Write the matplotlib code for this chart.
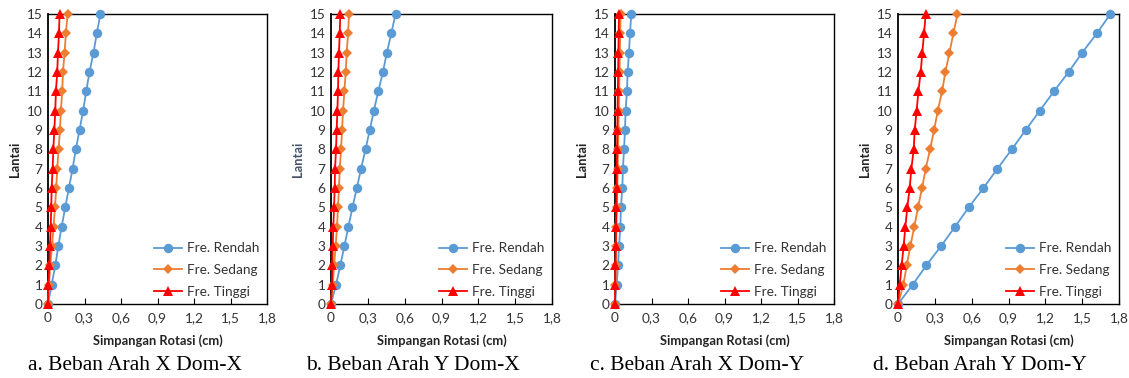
import matplotlib
matplotlib.use("Agg")
import matplotlib.pyplot as plt

lantai = list(range(16))

# Panel a: Beban Arah X Dom-X
a_rendah = [0, 0.030, 0.060, 0.085, 0.112, 0.142, 0.172, 0.202, 0.229, 0.259, 0.289, 0.314, 0.341, 0.374, 0.401, 0.431]
a_sedang = [0, 0.008, 0.019, 0.033, 0.046, 0.057, 0.068, 0.076, 0.087, 0.098, 0.106, 0.117, 0.123, 0.136, 0.147, 0.161]
a_tinggi = [0, 0.003, 0.011, 0.016, 0.022, 0.027, 0.030, 0.038, 0.044, 0.052, 0.060, 0.065, 0.076, 0.082, 0.090, 0.095]

# Panel b: Beban Arah Y Dom-X
b_rendah = [0, 0.041, 0.076, 0.109, 0.142, 0.175, 0.210, 0.245, 0.281, 0.316, 0.349, 0.385, 0.423, 0.455, 0.491, 0.526]
b_sedang = [0, 0.014, 0.025, 0.038, 0.049, 0.057, 0.065, 0.071, 0.082, 0.090, 0.098, 0.109, 0.120, 0.128, 0.139, 0.147]
b_tinggi = [0, 0.008, 0.011, 0.014, 0.019, 0.025, 0.030, 0.033, 0.041, 0.046, 0.052, 0.057, 0.060, 0.065, 0.071, 0.076]

# Panel c: Beban Arah X Dom-Y
c_rendah = [0, 0.014, 0.025, 0.033, 0.044, 0.049, 0.060, 0.065, 0.074, 0.082, 0.087, 0.098, 0.104, 0.115, 0.123, 0.134]
c_sedang = [0, 0.003, 0.006, 0.009, 0.012, 0.016, 0.019, 0.022, 0.025, 0.028, 0.031, 0.034, 0.037, 0.040, 0.043, 0.046]
c_tinggi = [0, 0.002, 0.004, 0.006, 0.008, 0.011, 0.013, 0.015, 0.017, 0.019, 0.021, 0.023, 0.026, 0.028, 0.030, 0.033]

# Panel d: Beban Arah Y Dom-Y
d_rendah = [0, 0.120, 0.231, 0.351, 0.465, 0.576, 0.696, 0.810, 0.927, 1.040, 1.155, 1.270, 1.390, 1.500, 1.620, 1.730]
d_sedang = [0, 0.044, 0.071, 0.101, 0.133, 0.163, 0.196, 0.226, 0.261, 0.294, 0.324, 0.359, 0.386, 0.419, 0.451, 0.484]
d_tinggi = [0, 0.014, 0.030, 0.046, 0.060, 0.076, 0.095, 0.109, 0.128, 0.136, 0.152, 0.166, 0.185, 0.198, 0.212, 0.226]

captions = ["a. Beban Arah X Dom-X", "b. Beban Arah Y Dom-X",
            "c. Beban Arah X Dom-Y", "d. Beban Arah Y Dom-Y"]
series_names = ["Fre. Rendah", "Fre. Sedang", "Fre. Tinggi"]
x_ticks = [0, 0.3, 0.6, 0.9, 1.2, 1.5, 1.8]
x_ticklabels = ["0", "0,3", "0,6", "0,9", "1,2", "1,5", "1,8"]
y_ticks = list(range(16))

panels = [
    (a_rendah, a_sedang, a_tinggi),
    (b_rendah, b_sedang, b_tinggi),
    (c_rendah, c_sedang, c_tinggi),
    (d_rendah, d_sedang, d_tinggi),
]

W, H = 1129, 378
fig = plt.figure(figsize=(W / 100, H / 100), dpi=100)

lefts = [48, 331, 615, 898]
widths = [219, 221, 219, 221]
top, bottom = 14, 304
cap_centers = [135, 413, 697, 980]
ylabel_colors = ["#222222", "#44546A", "#222222", "#222222"]

font = "Lato"
styles = [
    dict(color="#5B9BD5", marker="o", markersize=6.8, lw=1.3),
    dict(color="#ED7D31", marker="D", markersize=4.8, lw=1.3),
    dict(color="#FF0000", marker="^", markersize=6.8, lw=1.3),
]

for i, data in enumerate(panels):
    ax = fig.add_axes([lefts[i] / W, 1 - bottom / H, widths[i] / W, (bottom - top) / H])
    for vals, name, st in zip(data, series_names, styles):
        ax.plot(vals, lantai, label=name, clip_on=False, zorder=3,
                color=st["color"], marker=st["marker"], markersize=st["markersize"],
                linewidth=st["lw"], markeredgewidth=0)
    ax.set_xlim(0, 1.8)
    ax.set_ylim(0, 15)
    ax.set_xticks(x_ticks)
    ax.set_xticklabels(x_ticklabels, fontfamily=font, fontsize=9.8, color="#333333")
    ax.set_yticks(y_ticks)
    ax.set_yticklabels([str(v) for v in y_ticks], fontfamily=font, fontsize=9.8, color="#333333")
    ax.tick_params(axis="x", direction="in", length=4, width=0.8, pad=6)
    ax.tick_params(axis="y", length=0, pad=4)
    for s in ax.spines.values():
        s.set_color("black")
        s.set_linewidth(1.0)
    ax.spines["left"].set_linewidth(1.3)
    ax.set_xlabel("Simpangan Rotasi (cm)", fontfamily=font, fontsize=9.3, fontweight="bold",
                  color="#222222", labelpad=7)
    ax.set_ylabel("Lantai", fontfamily=font, fontsize=9.3, fontweight="bold",
                  color=ylabel_colors[i], labelpad=4)
    leg = ax.legend(loc="lower right", frameon=False, prop={"family": font, "size": 9.8},
                    handlelength=2.1, labelspacing=0.72, handletextpad=0.35,
                    borderaxespad=0.15, bbox_to_anchor=(1.0, -0.005))
    for t in leg.get_texts():
        t.set_color("#333333")
    fig.text(cap_centers[i] / W, 1 - 366 / H, captions[i], ha="center", va="center",
             fontfamily="Liberation Serif", fontsize=15.5, color="black")

fig.savefig("out.png", dpi=100)
